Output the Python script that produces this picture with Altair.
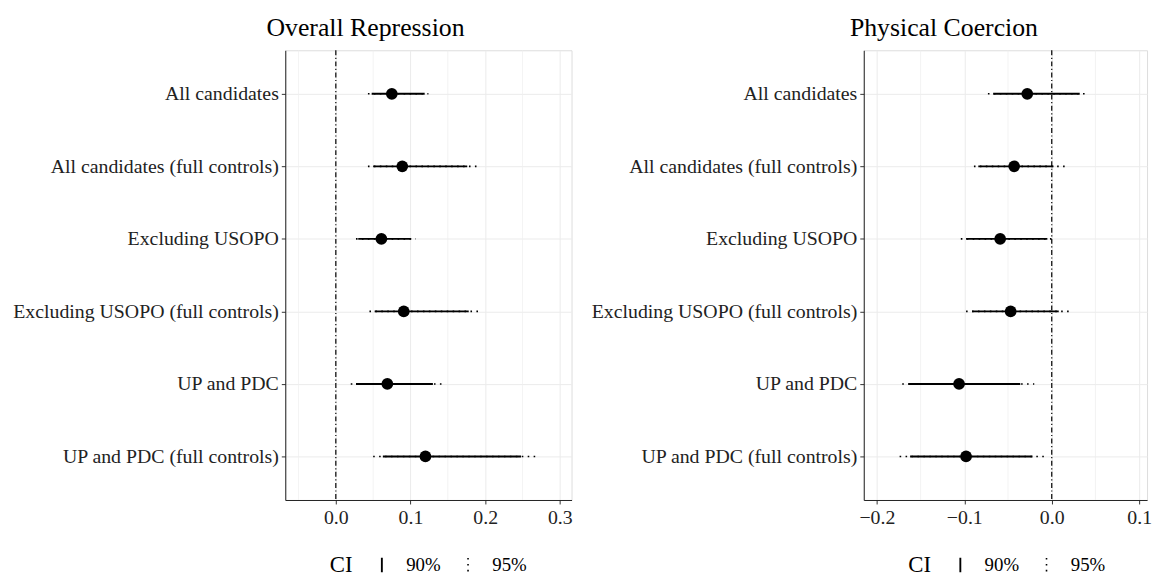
import altair as alt
import pandas as pd

models = [
    "All candidates",
    "All candidates (full controls)",
    "Excluding USOPO",
    "Excluding USOPO (full controls)",
    "UP and PDC",
    "UP and PDC (full controls)",
]
ci_levels = ["90%", "95%"]

# Overall Repression
rep_est = [0.075, 0.089, 0.061, 0.091, 0.069, 0.120]
rep_lo90 = [0.048, 0.050, 0.030, 0.052, 0.027, 0.063]
rep_hi90 = [0.119, 0.176, 0.101, 0.178, 0.130, 0.248]
rep_lo95 = [0.043, 0.043, 0.027, 0.045, 0.020, 0.050]
rep_hi95 = [0.124, 0.193, 0.107, 0.195, 0.145, 0.270]

# Physical Coercion
coe_est = [-0.028, -0.043, -0.059, -0.047, -0.106, -0.098]
coe_lo90 = [-0.067, -0.084, -0.098, -0.091, -0.164, -0.162]
coe_hi90 = [0.032, 0.002, -0.005, 0.008, -0.036, -0.022]
coe_lo95 = [-0.073, -0.089, -0.104, -0.098, -0.171, -0.174]
coe_hi95 = [0.039, 0.016, 0.001, 0.023, -0.020, -0.007]

rep_ticks = [0.0, 0.1, 0.2, 0.3]
rep_minor = [-0.05, 0.05, 0.15, 0.25]
rep_domain = [-0.0677, 0.3157]
coe_ticks = [-0.2, -0.1, 0.0, 0.1]
coe_minor = [-0.15, -0.05, 0.05]
coe_domain = [-0.215, 0.109]

SERIF = "Liberation Serif"


def panel(title, est, lo90, hi90, lo95, hi95, domain, ticks, minor, width, title_dx):
    ci_df = pd.DataFrame({
        "model": models + models,
        "ci": ["95%"] * 6 + ["90%"] * 6,
        "lo": lo95 + lo90,
        "hi": hi95 + hi90,
    })
    pt_df = pd.DataFrame({"model": models, "est": est})
    minor_df = pd.DataFrame({"v": minor})
    zero_df = pd.DataFrame({"v": [0.0]})

    xscale = alt.Scale(domain=domain, nice=False, zero=False)
    yenc = alt.Y(
        "model:N",
        sort=models,
        scale=alt.Scale(type="point", padding=0.6),
        axis=alt.Axis(title=None, labelFont=SERIF, labelFontSize=20,
                      labelColor="#222222", tickSize=4, tickColor="#333333",
                      domainColor="#222222", gridColor="#EBEBEB", grid=True,
                      labelPadding=3, labelLimit=500,
                      minExtent=277, maxExtent=277),
    )
    xaxis = alt.Axis(title=None, values=ticks, format=".1f", labelFont=SERIF,
                     labelFontSize=20, labelColor="#222222", tickSize=4,
                     tickColor="#333333", domainColor="#222222",
                     gridColor="#EBEBEB", grid=True, labelPadding=4)

    minor_layer = alt.Chart(minor_df).mark_rule(color="#EEEEEE", strokeWidth=0.7).encode(
        x=alt.X("v:Q", scale=xscale, axis=xaxis)
    )
    zero_layer = alt.Chart(zero_df).mark_rule(color="black", strokeWidth=1.2,
                                              strokeDash=[5, 2.5, 1.2, 2.5]).encode(
        x=alt.X("v:Q", scale=xscale, axis=xaxis)
    )
    ci_layer = alt.Chart(ci_df).mark_rule(color="black").encode(
        y=yenc,
        x=alt.X("lo:Q", scale=xscale, axis=xaxis),
        x2="hi:Q",
        strokeDash=alt.StrokeDash(
            "ci:N",
            scale=alt.Scale(domain=ci_levels, range=[[1, 0], [1.6, 4.4]]),
            legend=alt.Legend(
                title="CI", orient="none", legendX=45, legendY=510,
                direction="horizontal", titleOrient="left",
                symbolType="M0,-1L0,1", symbolSize=220,
                symbolStrokeColor="black", symbolStrokeWidth=1.6,
                labelFont=SERIF, labelFontSize=19, labelColor="black",
                labelOffset=15, columnPadding=18,
                titleFont=SERIF, titleFontSize=23, titleFontWeight="normal",
                titleColor="black", titlePadding=20,
            ),
        ),
        strokeWidth=alt.StrokeWidth(
            "ci:N", scale=alt.Scale(domain=ci_levels, range=[1.9, 1.6]), legend=None
        ),
    )
    pt_layer = alt.Chart(pt_df).mark_point(filled=True, color="black", size=140, opacity=1).encode(
        y=yenc,
        x=alt.X("est:Q", scale=xscale, axis=xaxis),
    )
    return alt.layer(minor_layer, zero_layer, ci_layer, pt_layer).properties(
        width=width, height=454,
        title=alt.TitleParams(title, font=SERIF, fontSize=26, fontWeight="normal",
                              color="black", anchor="start", frame="group",
                              dx=title_dx, offset=9),
    )


left = panel("Overall Repression", rep_est, rep_lo90, rep_hi90, rep_lo95, rep_hi95,
             rep_domain, rep_ticks, rep_minor, 289, -19)
right = panel("Physical Coercion", coe_est, coe_lo90, coe_hi90, coe_lo95, coe_hi95,
              coe_domain, coe_ticks, coe_minor, 286, -14)

chart = alt.hconcat(left, right, spacing=15).resolve_legend(
    strokeDash="independent", strokeWidth="independent"
).resolve_scale(x="independent", strokeDash="independent").configure_view(
    stroke="#555555", strokeWidth=1
).configure(
    padding={"left": 10, "top": 11, "right": 0, "bottom": 0}
)

chart.save("out.html", embed_options={"renderer": "svg", "actions": False})
